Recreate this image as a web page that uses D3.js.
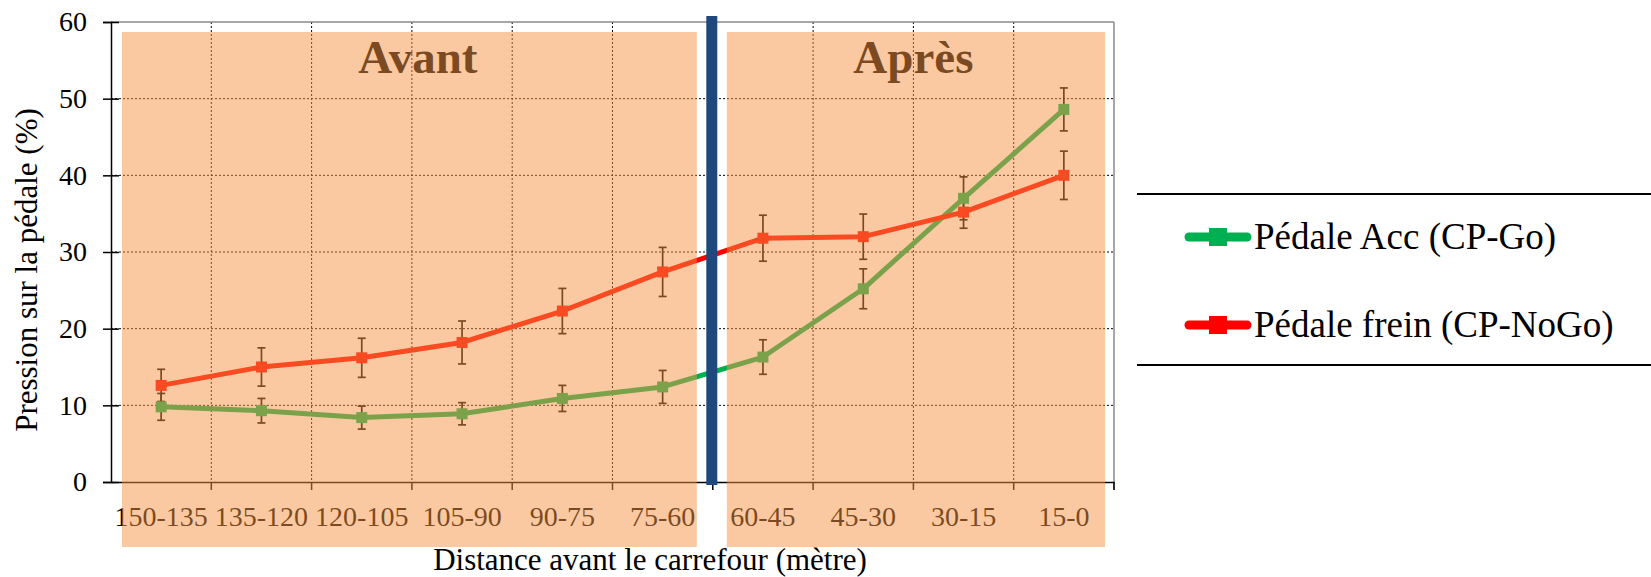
<!DOCTYPE html>
<html><head><meta charset="utf-8">
<script src="https://cdn.jsdelivr.net/npm/d3@7"></script>
<style>
body{margin:0;background:#fff}
svg{display:block}
text{font-family:"Liberation Serif","Times New Roman",serif}
</style>
</head><body>
<svg id="c" width="1651" height="577"></svg>
<script>
const categories = ["150-135","135-120","120-105","105-90","90-75","75-60","60-45","45-30","30-15","15-0"];
const accValues   = [9.8, 9.3, 8.4, 8.9, 10.9, 12.4, 16.3, 25.2, 37.0, 48.6];
const accErrors   = [1.75, 1.6, 1.5, 1.45, 1.7, 2.15, 2.25, 2.6, 2.8, 2.8];
const freinValues = [12.6, 15.0, 16.2, 18.2, 22.3, 27.4, 31.8, 32.0, 35.2, 40.0];
const freinErrors = [2.1, 2.5, 2.55, 2.8, 2.95, 3.2, 3.0, 2.95, 2.1, 3.15];
const yTicks = [0, 10, 20, 30, 40, 50, 60];
const seriesNames = ["Pédale Acc (CP-Go)", "Pédale frein (CP-NoGo)"];
const phaseLabels = ["Avant", "Après"];
const phaseSplit = 6; // first "Après" category index

const series = [
  {name: seriesNames[0], values: accValues, errors: accErrors, color: "#00B050"},
  {name: seriesNames[1], values: freinValues, errors: freinErrors, color: "#FF0000"}
];

const svg = d3.select("#c");
const L = 111, R = 1114, T = 22, B = 482;
const x = d3.scaleBand().domain(categories).range([L, R]).padding(0);
const y = d3.scaleLinear().domain([0, 60]).range([B, T]);
const cx = c => x(c) + x.bandwidth() / 2;

const under = svg.append("g");

// gridlines
const edges = categories.slice(1).map(c => x(c));
under.append("g").selectAll("line").data(edges).join("line")
  .attr("x1", d => d).attr("x2", d => d).attr("y1", T).attr("y2", B)
  .attr("stroke", "#000").attr("stroke-width", 1).attr("stroke-dasharray", "2,2");
under.append("g").selectAll("line").data(yTicks.filter(v => v > 0 && v < 60)).join("line")
  .attr("x1", L).attr("x2", R).attr("y1", d => y(d)).attr("y2", d => y(d))
  .attr("stroke", "#000").attr("stroke-width", 1).attr("stroke-dasharray", "2,2");

// frame (top & right, gray)
under.append("line").attr("x1", L).attr("x2", R).attr("y1", y(60)).attr("y2", y(60))
  .attr("stroke", "#8a8a8a").attr("stroke-width", 1.5);
under.append("line").attr("x1", R).attr("x2", R).attr("y1", y(60)).attr("y2", B + 8)
  .attr("stroke", "#8a8a8a").attr("stroke-width", 1.5);

// y axis
const yAxis = d3.axisLeft(y).tickValues(yTicks).tickSize(8).tickPadding(16);
const gy = under.append("g").attr("transform", `translate(${L},0)`).call(yAxis);
gy.attr("font-family", null);
gy.select(".domain").attr("stroke", "#000").attr("stroke-width", 1.5);
gy.selectAll(".tick line").attr("stroke", "#000").attr("stroke-width", 1.5).attr("x2", 8).attr("x1", -8);
gy.selectAll(".tick text").attr("font-size", 28).attr("fill", "#000");

// x axis: labels at band centers, ticks at band edges
const xAxis = d3.axisBottom(x).tickSize(0).tickPadding(24);
const gx = under.append("g").attr("transform", `translate(0,${B})`).call(xAxis);
gx.attr("font-family", null);
gx.select(".domain").attr("stroke", "#000").attr("stroke-width", 1.5);
gx.selectAll(".tick text").attr("font-size", 28).attr("fill", "#000");
under.append("g").selectAll("line").data(edges.concat([R])).join("line")
  .attr("x1", d => d).attr("x2", d => d).attr("y1", B).attr("y2", B + 8)
  .attr("stroke", "#000").attr("stroke-width", 1.5);

// axis titles
under.append("text").attr("transform", `translate(37,${(T + B) / 2 + 18}) rotate(-90)`)
  .attr("text-anchor", "middle").attr("font-size", 31).attr("fill", "#000")
  .text("Pression sur la pédale (%)");
under.append("text").attr("x", 650).attr("y", 570)
  .attr("text-anchor", "middle").attr("font-size", 31).attr("fill", "#000")
  .text("Distance avant le carrefour (mètre)");

// error bars
series.forEach(s => {
  const g = under.append("g");
  const data = categories.map((c, i) => ({c, v: s.values[i], e: s.errors[i]}));
  g.selectAll("line.v").data(data).join("line")
    .attr("x1", d => cx(d.c)).attr("x2", d => cx(d.c))
    .attr("y1", d => y(d.v - d.e)).attr("y2", d => y(d.v + d.e))
    .attr("stroke", "#000").attr("stroke-width", 1.7);
  ["top", "bot"].forEach(k => {
    g.selectAll("line." + k).data(data).join("line")
      .attr("x1", d => cx(d.c) - 4).attr("x2", d => cx(d.c) + 4)
      .attr("y1", d => y(k === "top" ? d.v + d.e : d.v - d.e))
      .attr("y2", d => y(k === "top" ? d.v + d.e : d.v - d.e))
      .attr("stroke", "#000").attr("stroke-width", 1.7);
  });
});

// lines & markers
const line = d3.line().x(d => cx(d.c)).y(d => y(d.v));
series.forEach(s => {
  const data = categories.map((c, i) => ({c, v: s.values[i]}));
  under.append("path").datum(data).attr("d", line)
    .attr("fill", "none").attr("stroke", s.color).attr("stroke-width", 5)
    .attr("stroke-linejoin", "round");
  under.append("g").selectAll("rect").data(data).join("rect")
    .attr("x", d => cx(d.c) - 5.5).attr("y", d => y(d.v) - 5.5)
    .attr("width", 11).attr("height", 11).attr("fill", s.color);
});

// phase titles (black, tinted by overlay)
under.append("text").attr("x", x(categories[3]) + 6).attr("y", 73)
  .attr("text-anchor", "middle").attr("font-size", 47).attr("font-weight", "bold")
  .attr("fill", "#000").text(phaseLabels[0]);
under.append("text").attr("x", x(categories[8])).attr("y", 73)
  .attr("text-anchor", "middle").attr("font-size", 47).attr("font-weight", "bold")
  .attr("fill", "#000").text(phaseLabels[1]);

// translucent orange overlays
const overlays = [
  {x0: L + 11, x1: x(categories[phaseSplit - 1]) + x.bandwidth() - 16},
  {x0: x(categories[phaseSplit]) + 14, x1: R - 9}
];
svg.append("g").selectAll("rect").data(overlays).join("rect")
  .attr("x", d => d.x0).attr("width", d => d.x1 - d.x0)
  .attr("y", 32).attr("height", 547 - 32)
  .attr("fill", "rgb(245,148,67)").attr("fill-opacity", 0.5);

// divider bar
svg.append("rect").attr("x", x(categories[phaseSplit]) - 6.5).attr("width", 11)
  .attr("y", 16).attr("height", 485 - 16).attr("fill", "#1F497D");

// legend
const lg = svg.append("g");
lg.append("line").attr("x1", 1137).attr("x2", 1651).attr("y1", 194).attr("y2", 194)
  .attr("stroke", "#000").attr("stroke-width", 2);
lg.append("line").attr("x1", 1137).attr("x2", 1651).attr("y1", 365).attr("y2", 365)
  .attr("stroke", "#000").attr("stroke-width", 2);
const legY = [237, 325];
series.forEach((s, i) => {
  const g = lg.append("g").attr("transform", `translate(0,${legY[i]})`);
  g.append("line").attr("x1", 1189).attr("x2", 1247).attr("y1", 0).attr("y2", 0)
    .attr("stroke", s.color).attr("stroke-width", 9).attr("stroke-linecap", "round");
  g.append("rect").attr("x", 1209).attr("y", -9).attr("width", 18).attr("height", 18).attr("fill", s.color);
  g.append("text").attr("x", 1254).attr("y", 12).attr("font-size", 37).attr("fill", "#000").text(s.name);
});
</script>
</body></html>
